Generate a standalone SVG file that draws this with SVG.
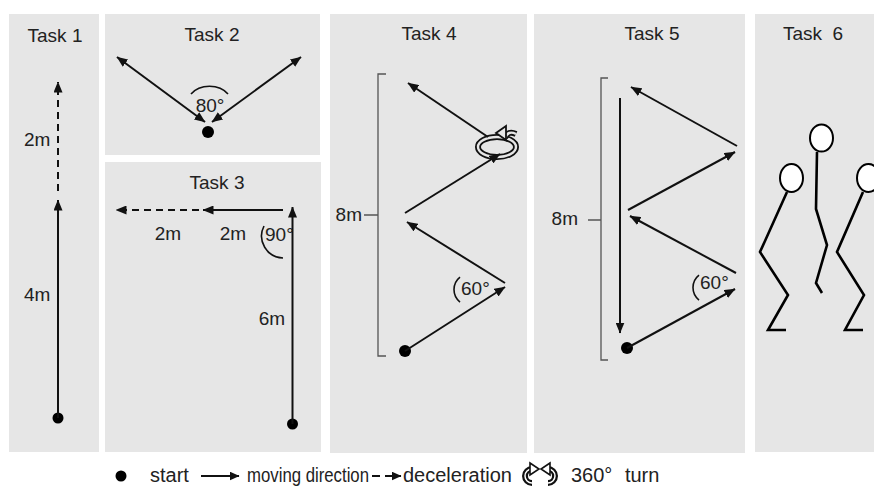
<svg xmlns="http://www.w3.org/2000/svg" width="874" height="487" viewBox="0 0 874 487">
  <defs>
    <marker id="ah" viewBox="0 0 11 9" refX="10.5" refY="4.5" markerWidth="11" markerHeight="9" markerUnits="userSpaceOnUse" orient="auto-start-reverse">
      <path d="M0,0 L11,4.5 L0,9 z" fill="#111"/>
    </marker>
    <marker id="ahs" viewBox="0 0 10 9" refX="9.5" refY="4.5" markerWidth="10" markerHeight="9" markerUnits="userSpaceOnUse" orient="auto">
      <path d="M0,0 L10,4.5 L0,9 z" fill="#111"/>
    </marker>
  </defs>
  <style>
    .panel{fill:#e6e6e6}
    .t{font-family:"Liberation Sans",Arial,Helvetica,sans-serif;font-size:19px;fill:#222}
    .lg{font-size:20px}
    .title{text-anchor:middle}
    .ln{stroke:#111;stroke-width:2;fill:none}
    .arr{marker-end:url(#ah)}
    .both{marker-start:url(#ah);marker-end:url(#ah)}
    .dash{stroke-dasharray:7 5}
    .br{stroke:#555;stroke-width:1.3;fill:none}
    .ang{stroke:#111;stroke-width:1.6;fill:none}
    .dot{fill:#000}
    .fig{stroke:#000;stroke-width:2.6;fill:none;stroke-linejoin:miter;stroke-linecap:butt}
    .head{fill:#fff;stroke:#000;stroke-width:2}
    .ringo{fill:none;stroke:#111;stroke-width:6}
    .ringi{fill:none;stroke:#e6e6e6;stroke-width:2.4}
  </style>

  <rect width="874" height="487" fill="#fff"/>

  <!-- panels -->
  <g id="panels">
    <rect class="panel" x="9" y="14" width="90" height="438"/>
    <rect class="panel" x="105" y="14" width="215" height="141"/>
    <rect class="panel" x="105" y="162" width="216" height="290"/>
    <rect class="panel" x="330" y="14" width="197" height="439"/>
    <rect class="panel" x="534" y="14" width="211" height="439"/>
    <rect class="panel" x="755" y="14" width="119" height="438"/>
  </g>

  <!-- Task 1: straight sprint then slowing down -->
  <g id="task1">
    <text class="t title" x="55" y="42">Task 1</text>
    <circle class="dot" cx="58" cy="418" r="5.5"/>
    <text class="t" x="24" y="146">2m</text>
    <text class="t" x="24" y="301">4m</text>
  </g>

  <!-- Task 2: out and back at 80 degrees -->
  <g id="task2">
    <text class="t title" x="212" y="41">Task 2</text>
    <circle class="dot" cx="208" cy="132" r="6"/>
    <path class="ang" d="M191,94 A22,17 0 0 1 228,94"/>
    <text class="t title" x="210" y="112">80°</text>
  </g>

  <!-- Task 3: run up, turn 90 degrees, slow down -->
  <g id="task3">
    <text class="t title" x="217" y="189">Task 3</text>
    <circle class="dot" cx="292.5" cy="424" r="5.5"/>
    <text class="t title" x="168" y="240">2m</text>
    <text class="t title" x="233" y="240">2m</text>
    <path class="ang" d="M264,226 A22,22 0 0 0 283,258"/>
    <text class="t" x="265" y="241">90°</text>
    <text class="t title" x="272" y="325">6m</text>
  </g>

  <!-- Task 4: zigzag with a full turn -->
  <g id="task4">
    <text class="t title" x="429" y="40">Task 4</text>
    <path class="br" d="M386,74 H378 V356 H386 M364,215 H378"/>
    <text class="t" x="362" y="221" text-anchor="end">8m</text>
    <circle class="dot" cx="405" cy="351" r="6"/>
    <path class="ang" d="M460,277 A16,16 0 0 0 460,302"/>
    <text class="t" x="461" y="295">60°</text>
    <g id="turn">
      <ellipse class="ringo" cx="497" cy="147" rx="19" ry="10"/>
      <ellipse class="ringi" cx="497" cy="147" rx="19" ry="10"/>
      <path class="ringo" d="M505,138 Q508,130 516,134"/>
      <path class="ringi" d="M505,138 Q508,130 516,134"/>
      <path d="M496,133 L506,126 L506,140 z" fill="#e6e6e6" stroke="#111" stroke-width="1.8"/>
    </g>
  </g>

  <!-- Task 5: zigzag and sprint back -->
  <g id="task5">
    <text class="t title" x="652" y="40">Task 5</text>
    <path class="br" d="M608,78 H601 V360 H608 M588,220 H601"/>
    <text class="t" x="578" y="225" text-anchor="end">8m</text>
    <circle class="dot" cx="627" cy="348" r="6"/>
    <path class="ang" d="M699,275 A16,16 0 0 0 699,300"/>
    <text class="t" x="700" y="289">60°</text>
  </g>

  <!-- Task 6: jumping figures -->
  <g id="task6">
    <text class="t title" x="813" y="40" xml:space="preserve">Task  6</text>
    <polyline class="fig" points="787,192 760,252 788,295 768,330 786,330"/>
    <ellipse class="head" cx="791.5" cy="178" rx="11.5" ry="14"/>
    <polyline class="fig" points="817,152 816,209 827,245 816,283 822,293"/>
    <ellipse class="head" cx="821.5" cy="138" rx="11.5" ry="13.5"/>
    <polyline class="fig" points="863,192 837,252 864,295 845,330 863,330"/>
    <ellipse class="head" cx="868.5" cy="178" rx="11.5" ry="14"/>
  </g>

  <!-- connectors -->
  <g id="connectors">
    <!-- task 1 -->
    <line class="ln arr" x1="58" y1="418" x2="58" y2="200"/>
    <line class="ln arr dash" x1="58" y1="191" x2="58" y2="82"/>
    <!-- task 2 -->
    <line class="ln both" x1="117" y1="57" x2="205" y2="122"/>
    <line class="ln both" x1="301" y1="57" x2="212" y2="122"/>
    <!-- task 3 -->
    <line class="ln arr" x1="292.5" y1="424" x2="292.5" y2="207"/>
    <line class="ln arr" x1="283" y1="210" x2="203" y2="210"/>
    <line class="ln arr dash" x1="199" y1="210" x2="116" y2="210"/>
    <!-- task 4 -->
    <line class="ln arr" x1="405" y1="351" x2="505" y2="287"/>
    <line class="ln arr" x1="505" y1="283" x2="407" y2="222"/>
    <line class="ln arr" x1="405" y1="213" x2="500" y2="154"/>
    <line class="ln arr" x1="488" y1="137" x2="408" y2="83"/>
    <!-- task 5 -->
    <line class="ln arr" x1="620" y1="98" x2="620" y2="333"/>
    <line class="ln arr" x1="627" y1="348" x2="735" y2="289"/>
    <line class="ln arr" x1="736" y1="273" x2="630" y2="216"/>
    <line class="ln arr" x1="628" y1="210" x2="735" y2="152"/>
    <line class="ln arr" x1="737" y1="146" x2="631" y2="87"/>
  </g>

  <!-- legend -->
  <g id="legend">
    <circle class="dot" cx="121" cy="476" r="5.5"/>
    <text class="t lg" x="150" y="482">start</text>
    <line class="ln" x1="201" y1="476" x2="239" y2="476" marker-end="url(#ahs)"/>
    <text class="t lg" x="247" y="482" textLength="122" lengthAdjust="spacingAndGlyphs">moving direction</text>
    <line class="ln" x1="372" y1="476" x2="393" y2="476" stroke-dasharray="8 5"/>
    <line class="ln" x1="393" y1="476" x2="401" y2="476" marker-end="url(#ahs)"/>
    <text class="t lg" x="403" y="482">deceleration</text>
    <g id="legend-turn">
      <path class="ringo" d="M532,469 A7,7 0 1 0 532,483" stroke-width="5"/>
      <path d="M532,469 A7,7 0 1 0 532,483" fill="none" stroke="#fff" stroke-width="1.5"/>
      <path d="M530,463 L539,469 L530,475 z" fill="#fff" stroke="#111" stroke-width="1.6"/>
      <path class="ringo" d="M548,469 A7,7 0 1 1 548,483" stroke-width="5"/>
      <path d="M548,469 A7,7 0 1 1 548,483" fill="none" stroke="#fff" stroke-width="1.5"/>
      <path d="M550,463 L541,469 L550,475 z" fill="#fff" stroke="#111" stroke-width="1.6"/>
    </g>
    <text class="t lg" x="571" y="482" word-spacing="7">360° turn</text>
  </g>
</svg>
